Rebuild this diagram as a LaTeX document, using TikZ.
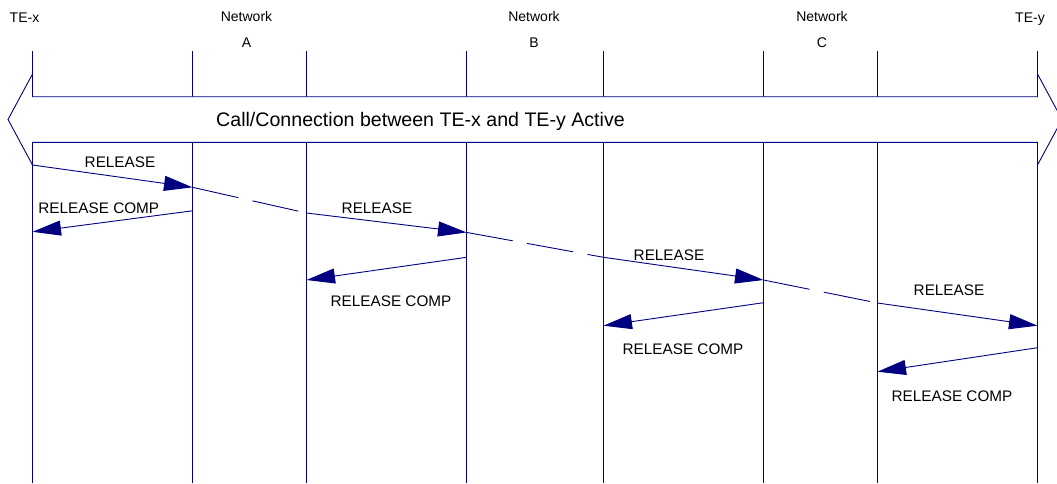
\documentclass[tikz,border=0pt]{standalone}
\usepackage{fontspec}
\setmainfont{Liberation Sans}
\usetikzlibrary{arrows.meta}
\definecolor{navyline}{RGB}{0,0,128}
\begin{document}
\begin{tikzpicture}[x=1pt,y=-1pt,
  life/.style={draw=navyline, line width=0.9pt},
  msg/.style={draw=navyline, line width=0.9pt, -{Triangle[length=28.5pt,width=15pt]}},
  gapline/.style={draw=navyline, line width=0.9pt, dash pattern=on 47pt off 14.5pt},
  lbl/.style={font=\fontsize{15.3}{18}\selectfont, anchor=base, inner sep=0pt},
  toplbl/.style={font=\fontsize{14}{16}\selectfont, anchor=base, inner sep=0pt},
  bandlbl/.style={font=\fontsize{19.6}{23}\selectfont, anchor=base, inner sep=0pt}]
\useasboundingbox (0,0) rectangle (1057,483);
\fill[white] (0,0) rectangle (1057,483);
% lifelines
\foreach \i/\x in {1/32.5,2/192.5,3/306.5,4/466.5,5/603.5,6/763.5,7/877.5,8/1037.5}{
  \coordinate (t\i) at (\x,51);
  \coordinate (b\i) at (\x,483);
  \draw[life] (t\i) -- (b\i);
}
% header labels
\node[toplbl] (tex) at (24.5,22.3) {TE-x};
\node[toplbl] (netA) at (246.5,21) {Network};
\node[toplbl] (netAl) at (246.5,47.3) {A};
\node[toplbl] (netB) at (534,21) {Network};
\node[toplbl] (netBl) at (534,47.3) {B};
\node[toplbl] (netC) at (822,21) {Network};
\node[toplbl] (netCl) at (822,47.3) {C};
\node[toplbl] (tey) at (1030,22.3) {TE-y};
% double arrow band
\filldraw[fill=white, draw=navyline, line width=0.9pt]
  (32.5,96.7) -- (1037.5,96.7) -- (1037.5,74) -- (1062,119.5) -- (1037.5,165)
  -- (1037.5,142.3) -- (32.5,142.3) -- (32.5,165) -- (8,119.5) -- (32.5,74) -- cycle;
\node[bandlbl] (band) at (420.5,126) {Call/Connection between TE-x and TE-y Active};
% RELEASE chain
\coordinate (r1a) at (32.5,165);
\coordinate (r1b) at (192.5,187.3);
\coordinate (r2a) at (306.5,213);
\coordinate (r2b) at (466.5,232.4);
\coordinate (r3a) at (603.5,257.3);
\coordinate (r3b) at (763.5,280);
\coordinate (r4a) at (877.5,303);
\coordinate (r4b) at (1037.5,325.7);
\draw[msg] (r1a) -- (r1b);
\draw[gapline] (r1b) -- (r2a);
\draw[msg] (r2a) -- (r2b);
\draw[gapline] (r2b) -- (r3a);
\draw[msg] (r3a) -- (r3b);
\draw[gapline] (r3b) -- (r4a);
\draw[msg] (r4a) -- (r4b);
% RELEASE COMP
\coordinate (c1a) at (192.5,210.8);
\coordinate (c1b) at (32.5,231.8);
\coordinate (c2a) at (466.5,257.3);
\coordinate (c2b) at (306.5,280);
\coordinate (c3a) at (763.5,302.7);
\coordinate (c3b) at (603.5,325.7);
\coordinate (c4a) at (1037.5,347.7);
\coordinate (c4b) at (877.5,371.7);
\draw[msg] (c1a) -- (c1b);
\draw[msg] (c2a) -- (c2b);
\draw[msg] (c3a) -- (c3b);
\draw[msg] (c4a) -- (c4b);
% labels
\node[lbl] (lr1) at (120,167.3) {RELEASE};
\node[lbl] (lc1) at (98.8,213.3) {RELEASE COMP};
\node[lbl] (lr2) at (377,213.3) {RELEASE};
\node[lbl] (lc2) at (391,306.8) {RELEASE COMP};
\node[lbl] (lr3) at (669,260) {RELEASE};
\node[lbl] (lc3) at (683,354) {RELEASE COMP};
\node[lbl] (lr4) at (949,295) {RELEASE};
\node[lbl] (lc4) at (952,401) {RELEASE COMP};
\end{tikzpicture}
\end{document}
